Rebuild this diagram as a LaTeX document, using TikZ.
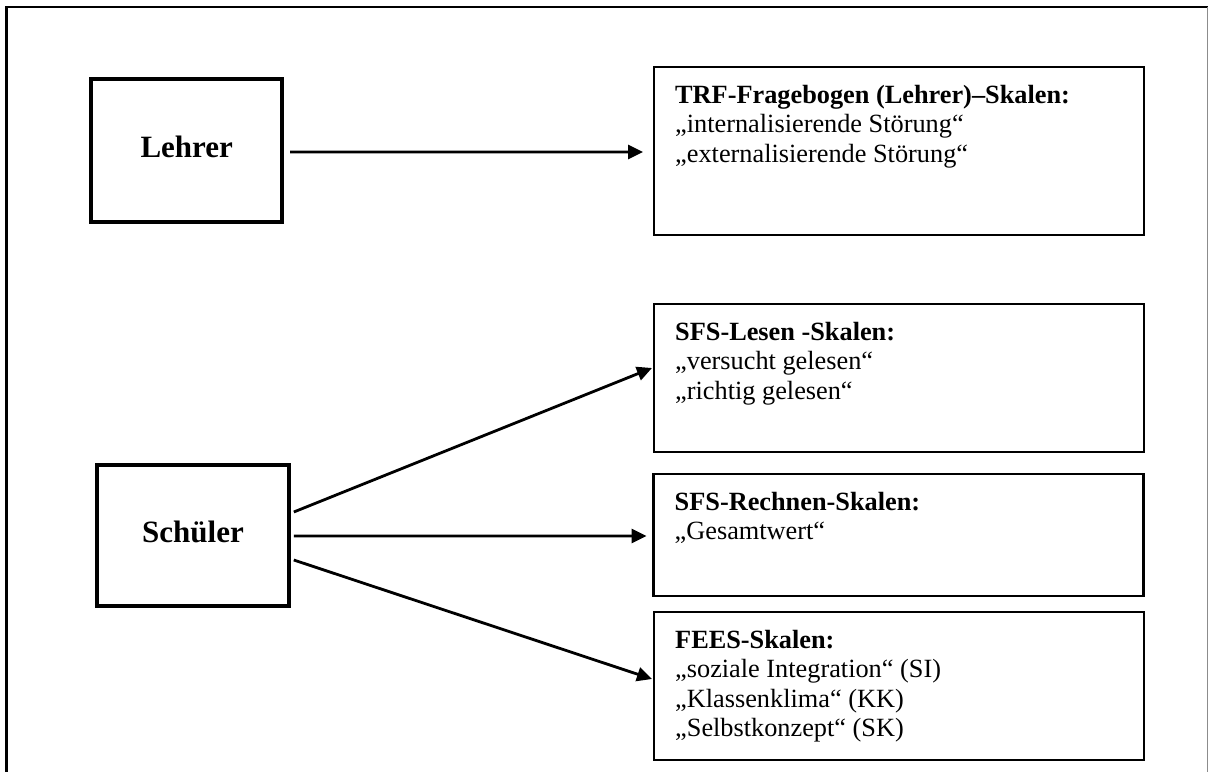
\documentclass[tikz,border=0pt]{standalone}
\usepackage{fontspec}
\setmainfont{Liberation Serif}
\usetikzlibrary{arrows.meta}
\begin{document}
\begin{tikzpicture}[x=1bp,y=-1bp,
  actor/.style={draw=black, line width=4bp, inner sep=0, outer sep=0},
  actortext/.style={font=\fontsize{31bp}{36bp}\selectfont\bfseries, inner sep=0, anchor=base},
  scalebox/.style={draw=black, line width=2.2bp, inner sep=0, outer sep=0, minimum width=490bp},
  scaletext/.style={font=\fontsize{26.3bp}{29.5bp}\selectfont, align=left, inner sep=0, anchor=north west},
  link/.style={line width=2.8bp, -{Triangle[length=15bp,width=14bp]}}
]
\useasboundingbox (0,0) rectangle (1211,772);

% page frame, open at the bottom
\coordinate (fbl) at (6.5,772);
\coordinate (ftl) at (6.5,7);
\coordinate (ftr) at (1207.5,7);
\coordinate (fbr) at (1207.5,772);
\draw[line width=2.5bp] (fbl) -- (ftl) -- (ftr);
\draw[black!45, line width=1.5bp] (ftr) -- (fbr);

% informants
\node[actor, minimum width=190.5bp, minimum height=143bp] (lehrer) at (186.75,150.5) {};
\node[actortext] (lehrerlbl) at ([shift={(0,6.5)}]lehrer.center) {Lehrer};
\node[actor, minimum width=191bp, minimum height=140.5bp] (schueler) at (193,535.25) {};
\node[actortext] (schuelerlbl) at ([shift={(0,7)}]schueler.center) {Schüler};

% instruments and their scales
\node[scalebox, minimum height=168bp] (trf) at (899,151) {};
\node[scaletext] (trftxt) at ([shift={(21,15.35)}]trf.north west)
  {\strut\textbf{TRF-Fragebogen (Lehrer)–Skalen:}\\„internalisierende Störung“\\„externalisierende Störung“};

\node[scalebox, minimum height=148bp] (lesen) at (899,378) {};
\node[scaletext] (lesentxt) at ([shift={(21,15.35)}]lesen.north west)
  {\strut\textbf{SFS-Lesen -Skalen:}\\„versucht gelesen“\\„richtig gelesen“};

\node[scalebox, minimum height=122bp] (rechnen) at (898.5,535) {};
\node[scaletext] (rechnentxt) at ([shift={(21,15.35)}]rechnen.north west)
  {\strut\textbf{SFS-Rechnen-Skalen:}\\„Gesamtwert“};

\node[scalebox, minimum height=148bp] (fees) at (899,686) {};
\node[scaletext] (feestxt) at ([shift={(21,15.35)}]fees.north west)
  {\strut\textbf{FEES-Skalen:}\\„soziale Integration“ (SI)\\„Klassenklima“ (KK)\\„Selbstkonzept“ (SK)};

% connectors
\draw[link] ([shift={(8,1.5)}]lehrer.east) -- ([shift={(-11,1)}]trf.west);
\draw[link] ([shift={(5.3,-23.25)}]schueler.east) -- ([shift={(-2,-10)}]lesen.west);
\draw[link] ([shift={(5.3,0.75)}]schueler.east) -- ([shift={(-7,1)}]rechnen.west);
\draw[link] ([shift={(5.3,24.75)}]schueler.east) -- ([shift={(-2,-7)}]fees.west);
\end{tikzpicture}
\end{document}
